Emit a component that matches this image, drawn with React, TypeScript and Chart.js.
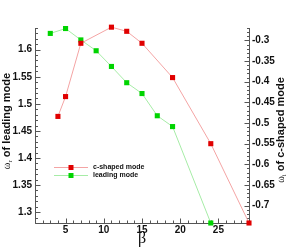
import React, { useEffect, useRef } from "react";
import { Chart, registerables } from "chart.js";

Chart.register(...registerables);

const seriesNames = ["c-shaped mode", "leading mode"];
const cShapedX = [4, 5, 7, 11, 13, 15, 19, 24, 29];
const cShapedY = [-0.484, -0.436, -0.307, -0.268, -0.278, -0.307, -0.39, -0.55, -0.742];
const leadingX = [3, 5, 7, 9, 11, 13, 15, 17, 19, 24];
const leadingY = [1.63, 1.639, 1.618, 1.598, 1.569, 1.539, 1.519, 1.478, 1.458, 1.28];
const xTicks = [5, 10, 15, 20, 25];
const leftTicks = [1.3, 1.35, 1.4, 1.45, 1.5, 1.55, 1.6];
const rightTicks = [-0.3, -0.35, -0.4, -0.45, -0.5, -0.55, -0.6, -0.65, -0.7];

const RED = "#e00000";
const RED_LINE = "#f4a4a4";
const GREEN = "#00d400";
const GREEN_LINE = "#a6eca6";
const AXIS = "#555555";
const TXT = "#111111";
const SANS = '"Liberation Sans", Arial, sans-serif';

const axesPlugin = {
  id: "customAxes",
  beforeDatasetsDraw(chart: any) {
    const { ctx, chartArea } = chart;
    const { left, right, top, bottom } = chartArea;
    const x = chart.scales.x;
    const y = chart.scales.y;
    const y1 = chart.scales.y1;
    ctx.save();
    ctx.strokeStyle = AXIS;
    ctx.lineWidth = 1;
    const L = Math.round(left) + 0.5;
    const R = Math.round(right) + 0.5;
    const B = Math.round(bottom) + 0.5;
    ctx.beginPath();
    ctx.moveTo(L, Math.round(top));
    ctx.lineTo(L, B);
    ctx.lineTo(R, B);
    ctx.lineTo(R, Math.round(top));
    ctx.stroke();

    ctx.beginPath();
    for (let v = Math.ceil(x.min); v <= x.max; v++) {
      const px = Math.round(x.getPixelForValue(v)) + 0.5;
      const len = v % 5 === 0 ? 5 : 3;
      ctx.moveTo(px, B);
      ctx.lineTo(px, B - len);
    }
    for (let i = Math.ceil(y.min * 100 - 1e-6); i <= Math.floor(y.max * 100 + 1e-6); i++) {
      const py = Math.round(y.getPixelForValue(i / 100)) + 0.5;
      const len = i % 5 === 0 ? 5 : 2.5;
      ctx.moveTo(L, py);
      ctx.lineTo(L + len, py);
    }
    for (let i = Math.ceil(y1.min * 100 - 1e-6); i <= Math.floor(y1.max * 100 + 1e-6); i++) {
      const py = Math.round(y1.getPixelForValue(i / 100)) + 0.5;
      const len = Math.abs(i) % 5 === 0 ? 5 : 2.5;
      ctx.moveTo(R, py);
      ctx.lineTo(R - len, py);
    }
    ctx.stroke();

    ctx.fillStyle = TXT;
    ctx.font = "bold 10px " + SANS;
    ctx.textBaseline = "middle";
    ctx.textAlign = "center";
    xTicks.forEach((v) => ctx.fillText(String(v), x.getPixelForValue(v), bottom + 7.5));
    ctx.textAlign = "right";
    leftTicks.forEach((v) => ctx.fillText(String(v), left - 3, y.getPixelForValue(v)));
    ctx.textAlign = "left";
    rightTicks.forEach((v) => ctx.fillText(String(v), right + 3, y1.getPixelForValue(v)));

    ctx.textAlign = "center";
    ctx.font = '16px "Liberation Serif", serif';
    ctx.fillText("β", (left + right) / 2, bottom + 16);

    const drawTitle = (cx: number, cy: number, sub: string, rest: string) => {
      ctx.save();
      ctx.translate(cx, cy);
      ctx.rotate(-Math.PI / 2);
      ctx.textBaseline = "middle";
      ctx.textAlign = "left";
      const f1 = '10px "Liberation Serif", serif';
      const f2 = '7px "Liberation Serif", serif';
      const f3 = "bold 11px " + SANS;
      ctx.font = f1;
      const w1 = ctx.measureText("ω").width;
      ctx.font = f2;
      const w2 = ctx.measureText(sub).width;
      ctx.font = f3;
      const w3 = ctx.measureText(rest).width;
      let sx = -(w1 + w2 + w3) / 2;
      ctx.font = f1;
      ctx.fillText("ω", sx, 0);
      sx += w1;
      ctx.font = f2;
      ctx.fillText(sub, sx, 3);
      sx += w2;
      ctx.font = f3;
      ctx.fillText(rest, sx, 0);
      ctx.restore();
    };
    drawTitle(7, 121, "r", " of leading mode");
    drawTitle(281, 130, "i", " of c-shaped mode");
    ctx.restore();
  },
  afterDraw(chart: any) {
    const { ctx } = chart;
    ctx.save();
    const items = [
      { name: seriesNames[0], line: RED_LINE, fill: RED, y: 167.5 },
      { name: seriesNames[1], line: GREEN_LINE, fill: GREEN, y: 175.5 },
    ];
    items.forEach((it) => {
      ctx.strokeStyle = it.line;
      ctx.lineWidth = 1;
      ctx.beginPath();
      ctx.moveTo(54, it.y);
      ctx.lineTo(88, it.y);
      ctx.stroke();
      ctx.fillStyle = it.fill;
      ctx.fillRect(68.5, it.y - 2.5, 5, 5);
      ctx.fillStyle = TXT;
      ctx.font = "bold 7px " + SANS;
      ctx.textBaseline = "middle";
      ctx.textAlign = "left";
      ctx.fillText(it.name, 93, it.y);
    });
    ctx.restore();
  },
};

export default function App() {
  const ref = useRef<HTMLCanvasElement | null>(null);
  useEffect(() => {
    document.body.style.margin = "0";
    const canvas = ref.current!;
    const chart = new Chart(canvas, {
      type: "scatter",
      data: {
        datasets: [
          {
            label: seriesNames[0],
            data: cShapedX.map((v, i) => ({ x: v, y: cShapedY[i] })),
            yAxisID: "y1",
            showLine: true,
            borderColor: RED_LINE,
            borderWidth: 1,
            backgroundColor: RED,
            pointBackgroundColor: RED,
            pointBorderColor: RED,
            pointBorderWidth: 0,
            pointStyle: "rect",
            pointRadius: 3.6,
            clip: false,
          },
          {
            label: seriesNames[1],
            data: leadingX.map((v, i) => ({ x: v, y: leadingY[i] })),
            yAxisID: "y",
            showLine: true,
            borderColor: GREEN_LINE,
            borderWidth: 1,
            backgroundColor: GREEN,
            pointBackgroundColor: GREEN,
            pointBorderColor: GREEN,
            pointBorderWidth: 0,
            pointStyle: "rect",
            pointRadius: 3.6,
            clip: false,
          },
        ],
      },
      options: {
        responsive: false,
        animation: false,
        devicePixelRatio: 1,
        layout: { padding: { left: 35, top: 28, right: 38, bottom: 29 } },
        plugins: { legend: { display: false }, tooltip: { enabled: false } },
        scales: {
          x: { type: "linear", min: 1, max: 29, display: false },
          y: { type: "linear", position: "left", min: 1.28, max: 1.64, display: false },
          y1: { type: "linear", position: "right", min: -0.742, max: -0.27, display: false },
        },
      },
      plugins: [axesPlugin],
    });
    return () => chart.destroy();
  }, []);
  return (
    <div style={{ position: "absolute", left: 0, top: 0, width: 287, height: 252, background: "#fff" }}>
      <canvas ref={ref} width={287} height={252} />
    </div>
  );
}
